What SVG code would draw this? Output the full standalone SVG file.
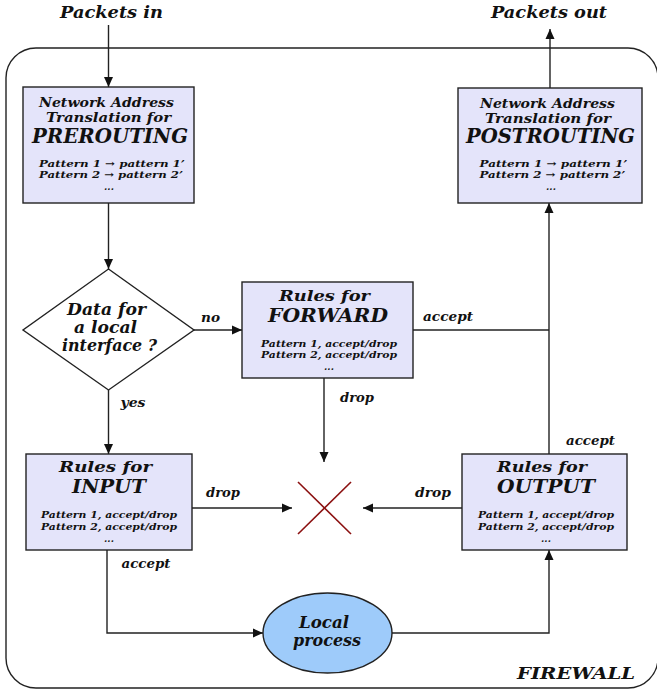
<svg xmlns="http://www.w3.org/2000/svg" width="657" height="694" viewBox="0 0 657 694">
<style>
text{font-family:"DejaVu Serif","Liberation Serif",serif;font-weight:bold;font-style:italic;fill:#111;text-anchor:middle}
.box{fill:#E4E4FA;stroke:#222;stroke-width:1.4}
.l{fill:none;stroke:#222;stroke-width:1.4}
.t16{font-size:16px}
.r{font-size:15px}
.t14{font-size:13.5px}
.big{font-size:19.5px}
.mid{font-size:18px}
.p{font-size:9.5px}
.lab{font-size:13px}
</style>
<defs>
<marker id="ah" viewBox="0 0 10 10" refX="10" refY="5" markerWidth="10" markerHeight="10" markerUnits="userSpaceOnUse" orient="auto">
<path d="M0,0.5 L10,5 L0,9.5 Z" fill="#111"/>
</marker>
</defs>
<g id="firewall">
<rect x="6" y="48" width="652" height="640" rx="30" ry="30" fill="none" stroke="#222" stroke-width="1.4"/>
<text x="576" y="679" font-size="16px" textLength="118" lengthAdjust="spacingAndGlyphs">FIREWALL</text>
</g>
<g id="connectors">
<line class="l" x1="108.5" y1="25" x2="108.5" y2="87" marker-end="url(#ah)"/>
<line class="l" x1="550" y1="88" x2="550" y2="29" marker-end="url(#ah)"/>
<line class="l" x1="108.5" y1="203" x2="108.5" y2="269" marker-end="url(#ah)"/>
<line class="l" x1="194" y1="330" x2="242" y2="330" marker-end="url(#ah)"/>
<line class="l" x1="108.5" y1="390" x2="108.5" y2="454" marker-end="url(#ah)"/>
<line class="l" x1="413" y1="330" x2="549" y2="330"/>
<line class="l" x1="549" y1="454" x2="549" y2="203" marker-end="url(#ah)"/>
<line class="l" x1="324" y1="378" x2="324" y2="462" marker-end="url(#ah)"/>
<line class="l" x1="192" y1="508" x2="292" y2="508" marker-end="url(#ah)"/>
<line class="l" x1="462" y1="508" x2="363" y2="508" marker-end="url(#ah)"/>
<polyline class="l" points="107,550 107,633 263,633" marker-end="url(#ah)"/>
<polyline class="l" points="392,633 549,633 549,550" marker-end="url(#ah)"/>
<text class="lab" x="210.5" y="322" textLength="19" lengthAdjust="spacingAndGlyphs">no</text>
<text class="lab" x="133" y="407" textLength="25" lengthAdjust="spacingAndGlyphs">yes</text>
<text class="lab" x="448" y="321" textLength="50" lengthAdjust="spacingAndGlyphs">accept</text>
<text class="lab" x="590.5" y="445" textLength="49" lengthAdjust="spacingAndGlyphs">accept</text>
<text class="lab" x="357" y="402" textLength="34" lengthAdjust="spacingAndGlyphs">drop</text>
<text class="lab" x="223" y="497" textLength="34" lengthAdjust="spacingAndGlyphs">drop</text>
<text class="lab" x="433" y="497" textLength="36" lengthAdjust="spacingAndGlyphs">drop</text>
<text class="lab" x="146" y="568" textLength="49" lengthAdjust="spacingAndGlyphs">accept</text>
</g>
<g id="packets-in"><text class="t16" x="111.5" y="18" textLength="103" lengthAdjust="spacingAndGlyphs">Packets in</text></g>
<g id="packets-out"><text class="t16" x="549" y="18" textLength="116" lengthAdjust="spacingAndGlyphs">Packets out</text></g>
<g id="prerouting">
<rect class="box" x="23" y="87" width="171" height="116"/>
<text class="t14" x="106.5" y="107" textLength="135" lengthAdjust="spacingAndGlyphs">Network Address</text>
<text class="t14" x="108.5" y="122" textLength="125" lengthAdjust="spacingAndGlyphs">Translation for</text>
<text class="big" x="110" y="143" textLength="156" lengthAdjust="spacingAndGlyphs">PREROUTING</text>
<text class="p" x="112" y="167" textLength="146" lengthAdjust="spacingAndGlyphs">Pattern 1  → pattern 1’</text>
<text class="p" x="111" y="178" textLength="144" lengthAdjust="spacingAndGlyphs">Pattern 2  → pattern 2’</text>
<text class="p" x="109" y="190">...</text>
</g>
<g id="postrouting">
<rect class="box" x="458" y="88" width="184" height="115"/>
<text class="t14" x="547.5" y="108" textLength="135" lengthAdjust="spacingAndGlyphs">Network Address</text>
<text class="t14" x="548" y="123" textLength="126" lengthAdjust="spacingAndGlyphs">Translation for</text>
<text class="big" x="550.5" y="143" textLength="169" lengthAdjust="spacingAndGlyphs">POSTROUTING</text>
<text class="p" x="553.5" y="167" textLength="148" lengthAdjust="spacingAndGlyphs">Pattern 1  → pattern 1’</text>
<text class="p" x="552.5" y="178" textLength="146" lengthAdjust="spacingAndGlyphs">Pattern 2  → pattern 2’</text>
<text class="p" x="551" y="190">...</text>
</g>
<g id="decision">
<polygon points="108.5,269 194,330 108.5,390 23,330" fill="#fff" stroke="#222" stroke-width="1.4"/>
<text class="t16" x="106.5" y="315" textLength="79" lengthAdjust="spacingAndGlyphs">Data for</text>
<text class="t16" x="105.5" y="333" textLength="63" lengthAdjust="spacingAndGlyphs">a local</text>
<text class="t16" x="109.5" y="351" textLength="95" lengthAdjust="spacingAndGlyphs">interface ?</text>
</g>
<g id="forward">
<rect class="box" x="242" y="282" width="171" height="96"/>
<text class="r" x="324.5" y="301" textLength="91" lengthAdjust="spacingAndGlyphs">Rules for</text>
<text class="mid" x="328" y="322" textLength="120" lengthAdjust="spacingAndGlyphs">FORWARD</text>
<text class="p" x="329" y="347" textLength="136" lengthAdjust="spacingAndGlyphs">Pattern 1, accept/drop</text>
<text class="p" x="329" y="358" textLength="136" lengthAdjust="spacingAndGlyphs">Pattern 2, accept/drop</text>
<text class="p" x="329" y="370">...</text>
</g>
<g id="input">
<rect class="box" x="26" y="454" width="166" height="96"/>
<text class="r" x="105.5" y="472" textLength="93" lengthAdjust="spacingAndGlyphs">Rules for</text>
<text class="mid" x="109" y="493" textLength="74" lengthAdjust="spacingAndGlyphs">INPUT</text>
<text class="p" x="109" y="518" textLength="136" lengthAdjust="spacingAndGlyphs">Pattern 1, accept/drop</text>
<text class="p" x="109" y="530" textLength="136" lengthAdjust="spacingAndGlyphs">Pattern 2, accept/drop</text>
<text class="p" x="109" y="542">...</text>
</g>
<g id="output">
<rect class="box" x="462" y="454" width="165" height="96"/>
<text class="r" x="542" y="472" textLength="90" lengthAdjust="spacingAndGlyphs">Rules for</text>
<text class="mid" x="546" y="493" textLength="98" lengthAdjust="spacingAndGlyphs">OUTPUT</text>
<text class="p" x="546" y="518" textLength="136" lengthAdjust="spacingAndGlyphs">Pattern 1, accept/drop</text>
<text class="p" x="546" y="530" textLength="136" lengthAdjust="spacingAndGlyphs">Pattern 2, accept/drop</text>
<text class="p" x="546" y="542">...</text>
</g>
<g id="drop-sink">
<line x1="298" y1="482" x2="351" y2="534" stroke="#8B1010" stroke-width="1.6"/>
<line x1="351" y1="482" x2="298" y2="534" stroke="#8B1010" stroke-width="1.6"/>
</g>
<g id="local-process">
<ellipse cx="327.5" cy="633" rx="64.5" ry="40" fill="#9ECBFA" stroke="#222" stroke-width="1.4"/>
<text class="t16" x="324" y="628" textLength="50" lengthAdjust="spacingAndGlyphs">Local</text>
<text class="t16" x="327" y="646" textLength="68" lengthAdjust="spacingAndGlyphs">process</text>
</g>
</svg>
